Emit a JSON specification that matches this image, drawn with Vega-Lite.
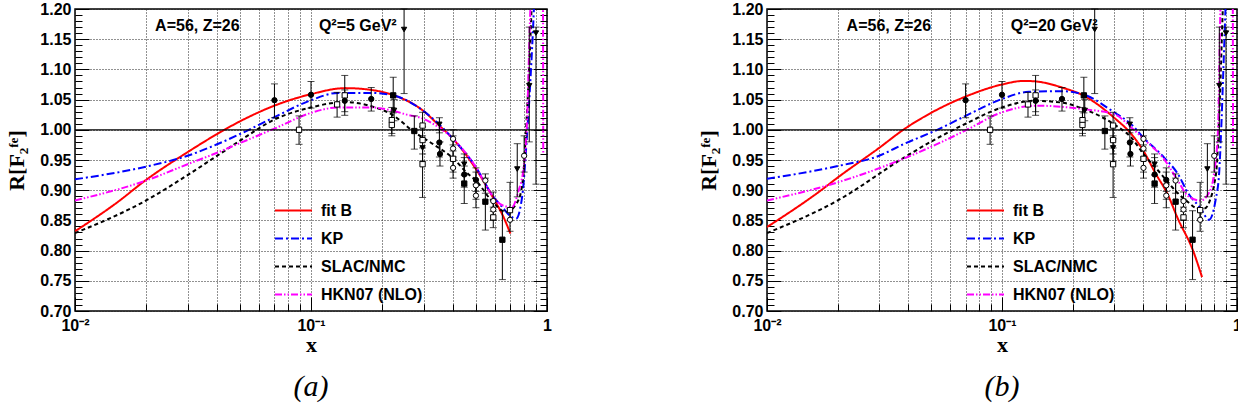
{
  "$schema": "https://vega.github.io/schema/vega-lite/v6.json",
  "background": "white",
  "padding": {"left": 5, "top": 0, "right": 0, "bottom": 0},
  "config": {
    "view": {"stroke": "black", "strokeWidth": 1.5},
    "font": "Liberation Sans",
    "axis": {"labelColor": "black", "tickColor": "black", "domain": false}
  },
  "datasets": {
    "curves": [
      {"panel":"a","model":"fit B","x":0.01,"r":0.832},{"panel":"a","model":"fit B","x":0.015,"r":0.879},{"panel":"a","model":"fit B","x":0.02,"r":0.917},{"panel":"a","model":"fit B","x":0.03,"r":0.963},{"panel":"a","model":"fit B","x":0.04,"r":0.993},{"panel":"a","model":"fit B","x":0.05,"r":1.014},{"panel":"a","model":"fit B","x":0.07,"r":1.040},{"panel":"a","model":"fit B","x":0.1,"r":1.059},{"panel":"a","model":"fit B","x":0.14,"r":1.069},{"panel":"a","model":"fit B","x":0.18,"r":1.066},{"panel":"a","model":"fit B","x":0.225,"r":1.057},{"panel":"a","model":"fit B","x":0.3,"r":1.031},{"panel":"a","model":"fit B","x":0.345,"r":1.009},{"panel":"a","model":"fit B","x":0.4,"r":0.985},{"panel":"a","model":"fit B","x":0.5,"r":0.935},{"panel":"a","model":"fit B","x":0.59,"r":0.888},{"panel":"a","model":"fit B","x":0.65,"r":0.858},{"panel":"a","model":"fit B","x":0.70,"r":0.828},
      {"panel":"a","model":"KP","x":0.01,"r":0.918},{"panel":"a","model":"KP","x":0.02,"r":0.939},{"panel":"a","model":"KP","x":0.03,"r":0.957},{"panel":"a","model":"KP","x":0.04,"r":0.976},{"panel":"a","model":"KP","x":0.05,"r":0.993},{"panel":"a","model":"KP","x":0.07,"r":1.021},{"panel":"a","model":"KP","x":0.1,"r":1.049},{"panel":"a","model":"KP","x":0.13,"r":1.061},{"panel":"a","model":"KP","x":0.18,"r":1.061},{"panel":"a","model":"KP","x":0.223,"r":1.057},{"panel":"a","model":"KP","x":0.3,"r":1.031},{"panel":"a","model":"KP","x":0.4,"r":0.985},{"panel":"a","model":"KP","x":0.5,"r":0.938},{"panel":"a","model":"KP","x":0.59,"r":0.890},{"panel":"a","model":"KP","x":0.647,"r":0.872},{"panel":"a","model":"KP","x":0.70,"r":0.857},{"panel":"a","model":"KP","x":0.74,"r":0.853},{"panel":"a","model":"KP","x":0.77,"r":0.870},{"panel":"a","model":"KP","x":0.79,"r":0.899},{"panel":"a","model":"KP","x":0.82,"r":0.982},{"panel":"a","model":"KP","x":0.85,"r":1.08},{"panel":"a","model":"KP","x":0.88,"r":1.20},{"panel":"a","model":"KP","x":0.90,"r":1.30},
      {"panel":"a","model":"SLAC/NMC","x":0.01,"r":0.829},{"panel":"a","model":"SLAC/NMC","x":0.02,"r":0.883},{"panel":"a","model":"SLAC/NMC","x":0.03,"r":0.925},{"panel":"a","model":"SLAC/NMC","x":0.04,"r":0.957},{"panel":"a","model":"SLAC/NMC","x":0.05,"r":0.982},{"panel":"a","model":"SLAC/NMC","x":0.07,"r":1.017},{"panel":"a","model":"SLAC/NMC","x":0.1,"r":1.037},{"panel":"a","model":"SLAC/NMC","x":0.14,"r":1.046},{"panel":"a","model":"SLAC/NMC","x":0.18,"r":1.039},{"panel":"a","model":"SLAC/NMC","x":0.223,"r":1.024},{"panel":"a","model":"SLAC/NMC","x":0.27,"r":0.998},{"panel":"a","model":"SLAC/NMC","x":0.33,"r":0.976},{"panel":"a","model":"SLAC/NMC","x":0.4,"r":0.953},{"panel":"a","model":"SLAC/NMC","x":0.46,"r":0.928},{"panel":"a","model":"SLAC/NMC","x":0.5,"r":0.916},{"panel":"a","model":"SLAC/NMC","x":0.59,"r":0.880},{"panel":"a","model":"SLAC/NMC","x":0.67,"r":0.864},{"panel":"a","model":"SLAC/NMC","x":0.74,"r":0.877},{"panel":"a","model":"SLAC/NMC","x":0.78,"r":0.902},{"panel":"a","model":"SLAC/NMC","x":0.80,"r":0.943},{"panel":"a","model":"SLAC/NMC","x":0.81,"r":0.982},{"panel":"a","model":"SLAC/NMC","x":0.84,"r":1.10},{"panel":"a","model":"SLAC/NMC","x":0.86,"r":1.20},{"panel":"a","model":"SLAC/NMC","x":0.88,"r":1.30},
      {"panel":"a","model":"HKN07 (NLO)","x":0.01,"r":0.883},{"panel":"a","model":"HKN07 (NLO)","x":0.02,"r":0.916},{"panel":"a","model":"HKN07 (NLO)","x":0.03,"r":0.943},{"panel":"a","model":"HKN07 (NLO)","x":0.04,"r":0.962},{"panel":"a","model":"HKN07 (NLO)","x":0.05,"r":0.978},{"panel":"a","model":"HKN07 (NLO)","x":0.07,"r":1.002},{"panel":"a","model":"HKN07 (NLO)","x":0.1,"r":1.028},{"panel":"a","model":"HKN07 (NLO)","x":0.13,"r":1.037},{"panel":"a","model":"HKN07 (NLO)","x":0.18,"r":1.037},{"panel":"a","model":"HKN07 (NLO)","x":0.225,"r":1.031},{"panel":"a","model":"HKN07 (NLO)","x":0.25,"r":1.026},{"panel":"a","model":"HKN07 (NLO)","x":0.3,"r":1.018},{"panel":"a","model":"HKN07 (NLO)","x":0.345,"r":1.005},{"panel":"a","model":"HKN07 (NLO)","x":0.4,"r":0.985},{"panel":"a","model":"HKN07 (NLO)","x":0.5,"r":0.938},{"panel":"a","model":"HKN07 (NLO)","x":0.59,"r":0.890},{"panel":"a","model":"HKN07 (NLO)","x":0.647,"r":0.875},{"panel":"a","model":"HKN07 (NLO)","x":0.71,"r":0.872},{"panel":"a","model":"HKN07 (NLO)","x":0.755,"r":0.897},{"panel":"a","model":"HKN07 (NLO)","x":0.80,"r":0.944},{"panel":"a","model":"HKN07 (NLO)","x":0.82,"r":1.0},{"panel":"a","model":"HKN07 (NLO)","x":0.85,"r":1.2},{"panel":"a","model":"HKN07 (NLO)","x":0.87,"r":1.3},{"panel":"a","model":"HKN07 (NLO)","x":0.96,"r":1.3},{"panel":"a","model":"HKN07 (NLO)","x":0.964,"r":0.96},
      {"panel":"b","model":"fit B","x":0.01,"r":0.839},{"panel":"b","model":"fit B","x":0.017,"r":0.900},{"panel":"b","model":"fit B","x":0.02,"r":0.921},{"panel":"b","model":"fit B","x":0.03,"r":0.970},{"panel":"b","model":"fit B","x":0.038,"r":1.000},{"panel":"b","model":"fit B","x":0.051,"r":1.030},{"panel":"b","model":"fit B","x":0.07,"r":1.055},{"panel":"b","model":"fit B","x":0.1,"r":1.075},{"panel":"b","model":"fit B","x":0.124,"r":1.081},{"panel":"b","model":"fit B","x":0.14,"r":1.080},{"panel":"b","model":"fit B","x":0.18,"r":1.070},{"panel":"b","model":"fit B","x":0.224,"r":1.056},{"panel":"b","model":"fit B","x":0.30,"r":1.020},{"panel":"b","model":"fit B","x":0.355,"r":0.993},{"panel":"b","model":"fit B","x":0.40,"r":0.965},{"panel":"b","model":"fit B","x":0.45,"r":0.928},{"panel":"b","model":"fit B","x":0.507,"r":0.893},{"panel":"b","model":"fit B","x":0.56,"r":0.853},{"panel":"b","model":"fit B","x":0.65,"r":0.800},{"panel":"b","model":"fit B","x":0.71,"r":0.756},
      {"panel":"b","model":"KP","x":0.01,"r":0.919},{"panel":"b","model":"KP","x":0.02,"r":0.940},{"panel":"b","model":"KP","x":0.03,"r":0.957},{"panel":"b","model":"KP","x":0.038,"r":0.976},{"panel":"b","model":"KP","x":0.053,"r":1.000},{"panel":"b","model":"KP","x":0.07,"r":1.023},{"panel":"b","model":"KP","x":0.1,"r":1.051},{"panel":"b","model":"KP","x":0.13,"r":1.063},{"panel":"b","model":"KP","x":0.18,"r":1.064},{"panel":"b","model":"KP","x":0.224,"r":1.058},{"panel":"b","model":"KP","x":0.3,"r":1.029},{"panel":"b","model":"KP","x":0.355,"r":1.009},{"panel":"b","model":"KP","x":0.4,"r":0.987},{"panel":"b","model":"KP","x":0.49,"r":0.954},{"panel":"b","model":"KP","x":0.56,"r":0.927},{"panel":"b","model":"KP","x":0.62,"r":0.895},{"panel":"b","model":"KP","x":0.70,"r":0.870},{"panel":"b","model":"KP","x":0.76,"r":0.851},{"panel":"b","model":"KP","x":0.81,"r":0.883},{"panel":"b","model":"KP","x":0.84,"r":0.930},{"panel":"b","model":"KP","x":0.855,"r":0.993},{"panel":"b","model":"KP","x":0.875,"r":1.10},{"panel":"b","model":"KP","x":0.895,"r":1.21},{"panel":"b","model":"KP","x":0.91,"r":1.30},
      {"panel":"b","model":"SLAC/NMC","x":0.01,"r":0.829},{"panel":"b","model":"SLAC/NMC","x":0.02,"r":0.883},{"panel":"b","model":"SLAC/NMC","x":0.0383,"r":0.954},{"panel":"b","model":"SLAC/NMC","x":0.053,"r":0.986},{"panel":"b","model":"SLAC/NMC","x":0.07,"r":1.010},{"panel":"b","model":"SLAC/NMC","x":0.1,"r":1.037},{"panel":"b","model":"SLAC/NMC","x":0.137,"r":1.048},{"panel":"b","model":"SLAC/NMC","x":0.18,"r":1.045},{"panel":"b","model":"SLAC/NMC","x":0.224,"r":1.034},{"panel":"b","model":"SLAC/NMC","x":0.30,"r":1.009},{"panel":"b","model":"SLAC/NMC","x":0.355,"r":0.987},{"panel":"b","model":"SLAC/NMC","x":0.40,"r":0.960},{"panel":"b","model":"SLAC/NMC","x":0.475,"r":0.927},{"panel":"b","model":"SLAC/NMC","x":0.56,"r":0.895},{"panel":"b","model":"SLAC/NMC","x":0.62,"r":0.880},{"panel":"b","model":"SLAC/NMC","x":0.68,"r":0.870},{"panel":"b","model":"SLAC/NMC","x":0.73,"r":0.870},{"panel":"b","model":"SLAC/NMC","x":0.77,"r":0.885},{"panel":"b","model":"SLAC/NMC","x":0.80,"r":0.910},{"panel":"b","model":"SLAC/NMC","x":0.82,"r":0.940},{"panel":"b","model":"SLAC/NMC","x":0.845,"r":1.05},{"panel":"b","model":"SLAC/NMC","x":0.87,"r":1.20},{"panel":"b","model":"SLAC/NMC","x":0.89,"r":1.30},
      {"panel":"b","model":"HKN07 (NLO)","x":0.01,"r":0.883},{"panel":"b","model":"HKN07 (NLO)","x":0.02,"r":0.913},{"panel":"b","model":"HKN07 (NLO)","x":0.038,"r":0.952},{"panel":"b","model":"HKN07 (NLO)","x":0.052,"r":0.975},{"panel":"b","model":"HKN07 (NLO)","x":0.07,"r":0.999},{"panel":"b","model":"HKN07 (NLO)","x":0.1,"r":1.029},{"panel":"b","model":"HKN07 (NLO)","x":0.14,"r":1.040},{"panel":"b","model":"HKN07 (NLO)","x":0.18,"r":1.038},{"panel":"b","model":"HKN07 (NLO)","x":0.224,"r":1.034},{"panel":"b","model":"HKN07 (NLO)","x":0.3,"r":1.026},{"panel":"b","model":"HKN07 (NLO)","x":0.355,"r":1.004},{"panel":"b","model":"HKN07 (NLO)","x":0.4,"r":0.985},{"panel":"b","model":"HKN07 (NLO)","x":0.49,"r":0.951},{"panel":"b","model":"HKN07 (NLO)","x":0.56,"r":0.916},{"panel":"b","model":"HKN07 (NLO)","x":0.62,"r":0.890},{"panel":"b","model":"HKN07 (NLO)","x":0.70,"r":0.883},{"panel":"b","model":"HKN07 (NLO)","x":0.77,"r":0.900},{"panel":"b","model":"HKN07 (NLO)","x":0.80,"r":0.930},{"panel":"b","model":"HKN07 (NLO)","x":0.83,"r":1.0},{"panel":"b","model":"HKN07 (NLO)","x":0.85,"r":1.2},{"panel":"b","model":"HKN07 (NLO)","x":0.87,"r":1.3},{"panel":"b","model":"HKN07 (NLO)","x":0.958,"r":1.3},{"panel":"b","model":"HKN07 (NLO)","x":0.962,"r":0.97}
    ],
    "points": [
      {"set":"E139","x":0.07,"r":1.049,"lo":1.020,"hi":1.076},
      {"set":"BCDMS","x":0.089,"r":1.000,"lo":0.976,"hi":1.023},
      {"set":"E139","x":0.10,"r":1.058,"lo":1.036,"hi":1.080},
      {"set":"BCDMS","x":0.129,"r":1.042,"lo":1.021,"hi":1.062},
      {"set":"BCDMS","x":0.139,"r":1.057,"lo":1.024,"hi":1.090},
      {"set":"E139","x":0.139,"r":1.048,"lo":1.030,"hi":1.066},
      {"set":"E139","x":0.18,"r":1.051,"lo":1.031,"hi":1.070},
      {"set":"E87","x":0.223,"r":1.057,"lo":1.028,"hi":1.087},
      {"set":"E140","x":0.248,"r":1.166,"lo":1.060,"hi":1.200},
      {"set":"BCDMS","x":0.22,"r":1.016,"lo":0.994,"hi":1.037},
      {"set":"BCDMS","x":0.22,"r":1.008,"lo":0.990,"hi":1.030},
      {"set":"E140","x":0.225,"r":1.032,"lo":1.015,"hi":1.050},
      {"set":"E87","x":0.274,"r":0.998,"lo":0.968,"hi":1.023},
      {"set":"BCDMS","x":0.297,"r":1.007,"lo":0.985,"hi":1.029},
      {"set":"BCDMS","x":0.297,"r":0.983,"lo":0.960,"hi":1.005},
      {"set":"E140","x":0.297,"r":0.970,"lo":0.948,"hi":0.990},
      {"set":"BCDMS","x":0.297,"r":0.943,"lo":0.888,"hi":0.970},
      {"set":"E140","x":0.35,"r":1.009,"lo":0.995,"hi":1.020},
      {"set":"E139","x":0.35,"r":0.979,"lo":0.955,"hi":1.000},
      {"set":"E139","x":0.352,"r":0.960,"lo":0.940,"hi":0.980},
      {"set":"EMC","x":0.40,"r":0.985,"lo":0.965,"hi":1.000},
      {"set":"EMC","x":0.40,"r":0.969,"lo":0.950,"hi":0.990},
      {"set":"BCDMS","x":0.40,"r":0.952,"lo":0.930,"hi":0.975},
      {"set":"EMC","x":0.40,"r":0.937,"lo":0.920,"hi":0.955},
      {"set":"E139","x":0.446,"r":0.926,"lo":0.905,"hi":0.954},
      {"set":"E87","x":0.446,"r":0.911,"lo":0.878,"hi":0.940},
      {"set":"E140","x":0.446,"r":0.943,"lo":0.925,"hi":0.960},
      {"set":"E139","x":0.50,"r":0.917,"lo":0.898,"hi":0.937},
      {"set":"EMC","x":0.50,"r":0.908,"lo":0.885,"hi":0.930},
      {"set":"EMC","x":0.50,"r":0.891,"lo":0.871,"hi":0.910},
      {"set":"EMC","x":0.548,"r":0.916,"lo":0.895,"hi":0.927},
      {"set":"E87","x":0.548,"r":0.881,"lo":0.834,"hi":0.920},
      {"set":"EMC","x":0.592,"r":0.882,"lo":0.865,"hi":0.897},
      {"set":"EMC","x":0.592,"r":0.868,"lo":0.850,"hi":0.885},
      {"set":"BCDMS","x":0.592,"r":0.855,"lo":0.838,"hi":0.872},
      {"set":"E87","x":0.647,"r":0.818,"lo":0.752,"hi":0.866},
      {"set":"BCDMS","x":0.697,"r":0.867,"lo":0.850,"hi":0.913},
      {"set":"EMC","x":0.697,"r":0.851,"lo":0.832,"hi":0.870},
      {"set":"E140","x":0.748,"r":0.935,"lo":0.889,"hi":0.977},
      {"set":"EMC","x":0.80,"r":0.957,"lo":0.930,"hi":0.990},
      {"set":"E140","x":0.841,"r":1.073,"lo":0.980,"hi":1.170},
      {"set":"E140","x":0.898,"r":1.160,"lo":0.910,"hi":1.170}
    ]
  },
  "resolve": {
    "scale": {"x": "independent", "y": "independent", "color": "independent", "strokeDash": "independent"},
    "legend": {"color": "independent", "strokeDash": "independent"}
  },
  "spacing": 144,
  "hconcat": [
    {
      "width": 472, "height": 302,
      "title": {"text": "(a)", "orient": "bottom", "font": "Liberation Serif", "fontStyle": "italic", "fontWeight": "normal", "fontSize": 30, "color": "black", "offset": 17},
      "resolve": {"axis": {"y": "independent"}},
      "layer": [
        {
          "data": {"name": "curves"},
          "transform": [{"filter": "datum.panel === 'a'"}],
          "mark": {"type": "line", "clip": true, "strokeWidth": 2, "interpolate": "monotone"},
          "encoding": {
            "x": {"field": "x", "type": "quantitative", "scale": {"type": "log", "domain": [0.01, 1]},
              "axis": {"title": "x", "titleFont": "Liberation Serif", "titleFontWeight": "bold", "titleFontSize": 22, "titleColor": "black", "titlePadding": -6,
                "values": [0.01,0.02,0.03,0.04,0.05,0.06,0.07,0.08,0.09,0.1,0.2,0.3,0.4,0.5,0.6,0.7,0.8,0.9,1],
                "labelExpr": "datum.value == 0.01 ? '10⁻²' : datum.value == 0.1 ? '10⁻¹' : datum.value == 1 ? '1' : ''",
                "labelFont": "Liberation Sans", "labelFontWeight": "bold", "labelFontSize": 16, "labelFlush": false, "labelOverlap": false, "labelBound": false, "labelPadding": 20,
                "tickSize": {"condition": {"test": "datum.value == 0.01 || datum.value == 0.1 || datum.value == 1", "value": -14}, "value": -7},
                "grid": true, "gridDash": [1, 2], "gridColor": "#222", "gridWidth": 1}},
            "y": {"field": "r", "type": "quantitative", "scale": {"domain": [0.7, 1.2], "zero": false, "nice": false},
              "axis": {"title": "R[F₂ᶠᵉ]", "titleFont": "Liberation Serif", "titleFontWeight": "bold", "titleFontSize": 22, "titleColor": "black", "titlePadding": 11,
                "values": [0.7,0.71,0.72,0.73,0.74,0.75,0.76,0.77,0.78,0.79,0.8,0.81,0.82,0.83,0.84,0.85,0.86,0.87,0.88,0.89,0.9,0.91,0.92,0.93,0.94,0.95,0.96,0.97,0.98,0.99,1,1.01,1.02,1.03,1.04,1.05,1.06,1.07,1.08,1.09,1.1,1.11,1.12,1.13,1.14,1.15,1.16,1.17,1.18,1.19,1.2],
                "labelExpr": "abs(datum.value*20 - round(datum.value*20)) < 0.01 ? format(datum.value, '.2f') : ''",
                "labelFont": "Liberation Sans", "labelFontWeight": "bold", "labelFontSize": 16, "labelOverlap": false, "labelBound": false, "labelPadding": 18,
                "tickSize": {"condition": {"test": "abs(datum.value*20 - round(datum.value*20)) < 0.01", "value": -14}, "value": -7},
                "grid": true, "gridDash": [1, 2], "gridColor": "#222", "gridWidth": 1,
                "gridOpacity": {"condition": {"test": "abs(datum.value*20 - round(datum.value*20)) < 0.01", "value": 1}, "value": 0}}},
            "color": {"field": "model", "type": "nominal",
              "scale": {"domain": ["fit B", "KP", "SLAC/NMC", "HKN07 (NLO)"], "range": ["#ff0000", "#0000ff", "#000000", "#ff00ff"]},
              "legend": {"title": null, "orient": "none", "legendX": 199, "legendY": 182, "symbolType": "stroke", "symbolSize": 1369, "symbolStrokeWidth": 2, "labelFont": "Liberation Sans", "labelFontWeight": "bold", "labelFontSize": 16, "labelColor": "black", "labelOffset": 8, "rowPadding": -12, "padding": 0}},
            "strokeDash": {"field": "model", "type": "nominal",
              "scale": {"domain": ["fit B", "KP", "SLAC/NMC", "HKN07 (NLO)"], "range": [[1, 0], [8, 3, 2, 3], [4, 3], [7, 2, 1.5, 2, 1.5, 2]]},
              "legend": {"title": null, "orient": "none", "legendX": 199, "legendY": 182, "symbolType": "stroke", "symbolSize": 1369, "symbolStrokeWidth": 2, "labelFont": "Liberation Sans", "labelFontWeight": "bold", "labelFontSize": 16, "labelColor": "black", "labelOffset": 8, "rowPadding": -12, "padding": 0}}
          }
        },
        {
          "data": {"values": [{}]},
          "mark": {"type": "rule", "color": "black", "strokeWidth": 1.2},
          "encoding": {"y": {"datum": 1, "axis": null}}
        },
        {
          "data": {"name": "points"},
          "mark": {"type": "errorbar", "ticks": {"size": 7}, "color": "black", "thickness": 1},
          "encoding": {
            "x": {"field": "x", "type": "quantitative"},
            "y": {"field": "lo", "type": "quantitative", "axis": null},
            "y2": {"field": "hi"}
          }
        },
        {
          "data": {"name": "points"},
          "mark": {"type": "point", "filled": true, "stroke": "black", "strokeWidth": 1, "size": 28, "opacity": 1},
          "encoding": {
            "x": {"field": "x", "type": "quantitative"},
            "y": {"field": "r", "type": "quantitative",
              "axis": {"orient": "right", "title": null, "labels": false, "grid": false,
                "values": [0.7,0.71,0.72,0.73,0.74,0.75,0.76,0.77,0.78,0.79,0.8,0.81,0.82,0.83,0.84,0.85,0.86,0.87,0.88,0.89,0.9,0.91,0.92,0.93,0.94,0.95,0.96,0.97,0.98,0.99,1,1.01,1.02,1.03,1.04,1.05,1.06,1.07,1.08,1.09,1.1,1.11,1.12,1.13,1.14,1.15,1.16,1.17,1.18,1.19,1.2],
                "tickSize": {"condition": {"test": "abs(datum.value*20 - round(datum.value*20)) < 0.01", "value": -14}, "value": -7}}},
            "shape": {"field": "set", "type": "nominal", "scale": {"domain": ["E139", "E87", "BCDMS", "EMC", "E140"], "range": ["circle", "square", "square", "circle", "triangle-down"]}, "legend": null},
            "fill": {"field": "set", "type": "nominal", "scale": {"domain": ["E139", "E87", "BCDMS", "EMC", "E140"], "range": ["black", "black", "white", "white", "black"]}, "legend": null}
          }
        },
        {
          "data": {"values": [{}]},
          "mark": {"type": "text", "text": "A=56, Z=26", "font": "Liberation Sans", "fontWeight": "bold", "fontSize": 16, "align": "center", "baseline": "middle", "color": "black"},
          "encoding": {"x": {"datum": 0.033}, "y": {"datum": 1.172, "axis": null}}
        },
        {
          "data": {"values": [{}]},
          "mark": {"type": "text", "text": "Q²=5 GeV²", "font": "Liberation Sans", "fontWeight": "bold", "fontSize": 16, "align": "left", "baseline": "middle", "color": "black"},
          "encoding": {"x": {"datum": 0.108}, "y": {"datum": 1.172, "axis": null}}
        }
      ]
    },
    {
      "width": 470, "height": 302,
      "title": {"text": "(b)", "orient": "bottom", "font": "Liberation Serif", "fontStyle": "italic", "fontWeight": "normal", "fontSize": 30, "color": "black", "offset": 17},
      "resolve": {"axis": {"y": "independent"}},
      "layer": [
        {
          "data": {"name": "curves"},
          "transform": [{"filter": "datum.panel === 'b'"}],
          "mark": {"type": "line", "clip": true, "strokeWidth": 2, "interpolate": "monotone"},
          "encoding": {
            "x": {"field": "x", "type": "quantitative", "scale": {"type": "log", "domain": [0.01, 1]},
              "axis": {"title": "x", "titleFont": "Liberation Serif", "titleFontWeight": "bold", "titleFontSize": 22, "titleColor": "black", "titlePadding": -6,
                "values": [0.01,0.02,0.03,0.04,0.05,0.06,0.07,0.08,0.09,0.1,0.2,0.3,0.4,0.5,0.6,0.7,0.8,0.9,1],
                "labelExpr": "datum.value == 0.01 ? '10⁻²' : datum.value == 0.1 ? '10⁻¹' : datum.value == 1 ? '1' : ''",
                "labelFont": "Liberation Sans", "labelFontWeight": "bold", "labelFontSize": 16, "labelFlush": false, "labelOverlap": false, "labelBound": false, "labelPadding": 20,
                "tickSize": {"condition": {"test": "datum.value == 0.01 || datum.value == 0.1 || datum.value == 1", "value": -14}, "value": -7},
                "grid": true, "gridDash": [1, 2], "gridColor": "#222", "gridWidth": 1}},
            "y": {"field": "r", "type": "quantitative", "scale": {"domain": [0.7, 1.2], "zero": false, "nice": false},
              "axis": {"title": "R[F₂ᶠᵉ]", "titleFont": "Liberation Serif", "titleFontWeight": "bold", "titleFontSize": 22, "titleColor": "black", "titlePadding": 11,
                "values": [0.7,0.71,0.72,0.73,0.74,0.75,0.76,0.77,0.78,0.79,0.8,0.81,0.82,0.83,0.84,0.85,0.86,0.87,0.88,0.89,0.9,0.91,0.92,0.93,0.94,0.95,0.96,0.97,0.98,0.99,1,1.01,1.02,1.03,1.04,1.05,1.06,1.07,1.08,1.09,1.1,1.11,1.12,1.13,1.14,1.15,1.16,1.17,1.18,1.19,1.2],
                "labelExpr": "abs(datum.value*20 - round(datum.value*20)) < 0.01 ? format(datum.value, '.2f') : ''",
                "labelFont": "Liberation Sans", "labelFontWeight": "bold", "labelFontSize": 16, "labelOverlap": false, "labelBound": false, "labelPadding": 18,
                "tickSize": {"condition": {"test": "abs(datum.value*20 - round(datum.value*20)) < 0.01", "value": -14}, "value": -7},
                "grid": true, "gridDash": [1, 2], "gridColor": "#222", "gridWidth": 1,
                "gridOpacity": {"condition": {"test": "abs(datum.value*20 - round(datum.value*20)) < 0.01", "value": 1}, "value": 0}}},
            "color": {"field": "model", "type": "nominal",
              "scale": {"domain": ["fit B", "KP", "SLAC/NMC", "HKN07 (NLO)"], "range": ["#ff0000", "#0000ff", "#000000", "#ff00ff"]},
              "legend": {"title": null, "orient": "none", "legendX": 199, "legendY": 182, "symbolType": "stroke", "symbolSize": 1369, "symbolStrokeWidth": 2, "labelFont": "Liberation Sans", "labelFontWeight": "bold", "labelFontSize": 16, "labelColor": "black", "labelOffset": 8, "rowPadding": -12, "padding": 0}},
            "strokeDash": {"field": "model", "type": "nominal",
              "scale": {"domain": ["fit B", "KP", "SLAC/NMC", "HKN07 (NLO)"], "range": [[1, 0], [8, 3, 2, 3], [4, 3], [7, 2, 1.5, 2, 1.5, 2]]},
              "legend": {"title": null, "orient": "none", "legendX": 199, "legendY": 182, "symbolType": "stroke", "symbolSize": 1369, "symbolStrokeWidth": 2, "labelFont": "Liberation Sans", "labelFontWeight": "bold", "labelFontSize": 16, "labelColor": "black", "labelOffset": 8, "rowPadding": -12, "padding": 0}}
          }
        },
        {
          "data": {"values": [{}]},
          "mark": {"type": "rule", "color": "black", "strokeWidth": 1.2},
          "encoding": {"y": {"datum": 1, "axis": null}}
        },
        {
          "data": {"name": "points"},
          "mark": {"type": "errorbar", "ticks": {"size": 7}, "color": "black", "thickness": 1},
          "encoding": {
            "x": {"field": "x", "type": "quantitative"},
            "y": {"field": "lo", "type": "quantitative", "axis": null},
            "y2": {"field": "hi"}
          }
        },
        {
          "data": {"name": "points"},
          "mark": {"type": "point", "filled": true, "stroke": "black", "strokeWidth": 1, "size": 28, "opacity": 1},
          "encoding": {
            "x": {"field": "x", "type": "quantitative"},
            "y": {"field": "r", "type": "quantitative",
              "axis": {"orient": "right", "title": null, "labels": false, "grid": false,
                "values": [0.7,0.71,0.72,0.73,0.74,0.75,0.76,0.77,0.78,0.79,0.8,0.81,0.82,0.83,0.84,0.85,0.86,0.87,0.88,0.89,0.9,0.91,0.92,0.93,0.94,0.95,0.96,0.97,0.98,0.99,1,1.01,1.02,1.03,1.04,1.05,1.06,1.07,1.08,1.09,1.1,1.11,1.12,1.13,1.14,1.15,1.16,1.17,1.18,1.19,1.2],
                "tickSize": {"condition": {"test": "abs(datum.value*20 - round(datum.value*20)) < 0.01", "value": -14}, "value": -7}}},
            "shape": {"field": "set", "type": "nominal", "scale": {"domain": ["E139", "E87", "BCDMS", "EMC", "E140"], "range": ["circle", "square", "square", "circle", "triangle-down"]}, "legend": null},
            "fill": {"field": "set", "type": "nominal", "scale": {"domain": ["E139", "E87", "BCDMS", "EMC", "E140"], "range": ["black", "black", "white", "white", "black"]}, "legend": null}
          }
        },
        {
          "data": {"values": [{}]},
          "mark": {"type": "text", "text": "A=56, Z=26", "font": "Liberation Sans", "fontWeight": "bold", "fontSize": 16, "align": "center", "baseline": "middle", "color": "black"},
          "encoding": {"x": {"datum": 0.033}, "y": {"datum": 1.172, "axis": null}}
        },
        {
          "data": {"values": [{}]},
          "mark": {"type": "text", "text": "Q²=20 GeV²", "font": "Liberation Sans", "fontWeight": "bold", "fontSize": 16, "align": "left", "baseline": "middle", "color": "black"},
          "encoding": {"x": {"datum": 0.109}, "y": {"datum": 1.172, "axis": null}}
        }
      ]
    }
  ]
}
